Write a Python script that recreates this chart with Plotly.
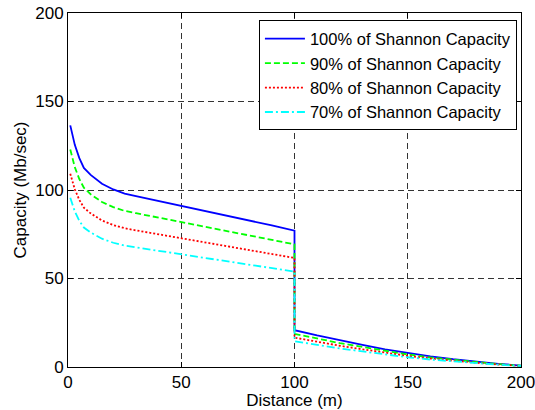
import plotly.graph_objects as go

distance = [1, 2, 3, 5, 7, 10, 15, 20, 25, 30, 40, 50, 60, 70, 80, 90, 100,
            100, 110, 120, 130, 140, 150, 160, 170, 180, 190, 200]

cap100 = [136.5, 130, 125.5, 118, 112.5, 108.5, 103.5, 100.3, 98, 96.5, 93.8, 91, 88.3, 85.5, 82.8, 80, 77,
          20.8, 17.8, 15, 12.5, 10, 7.9, 6, 4.4, 3, 1.8, 0.8]
cap90 = [122.9, 117, 112.9, 106.2, 101.3, 97.6, 93.2, 90.3, 88.2, 86.9, 84.4, 81.9, 79.5, 77, 74.5, 72, 69.3,
         18.7, 16, 13.5, 11.3, 9, 7.1, 5.4, 4, 2.7, 1.6, 0.7]
cap80 = [109.2, 104, 100.4, 94.4, 90, 86.8, 82.8, 80.2, 78.4, 77.2, 75, 72.8, 70.6, 68.4, 66.2, 64, 61.6,
         16.6, 14.2, 12, 10, 8, 6.3, 4.8, 3.5, 2.4, 1.4, 0.6]
cap70 = [95.6, 91, 87.9, 82.6, 78.8, 76, 72.5, 70.2, 68.6, 67.6, 65.7, 63.7, 61.8, 59.9, 58, 56, 53.9,
         14.6, 12.5, 10.5, 8.8, 7, 5.5, 4.2, 3.1, 2.1, 1.3, 0.6]

names = ["100% of Shannon Capacity", "90% of Shannon Capacity",
         "80% of Shannon Capacity", "70% of Shannon Capacity"]
colors = ["#0000FF", "#00FF00", "#FF0000", "#00FFFF"]
dashes = ["solid", "6px,3px", "2px,2px", "8px,3px,2px,3px"]

fig = go.Figure()
for ys, nm, c, d in zip([cap100, cap90, cap80, cap70], names, colors, dashes):
    fig.add_trace(go.Scatter(x=distance, y=ys, mode="lines", name=nm,
                             line=dict(color=c, width=1.8, dash=d)))

font = dict(family="Liberation Sans, Arial, sans-serif", size=17, color="black")
legend_font = dict(family="Liberation Sans, Arial, sans-serif", size=16.5, color="black")

fig.update_layout(
    width=535, height=410,
    margin=dict(l=68, r=14, t=13, b=43),
    paper_bgcolor="white", plot_bgcolor="white",
    font=font,
    showlegend=True,
    legend=dict(x=0.991, y=0.979, xanchor="right", yanchor="top",
                bgcolor="white", bordercolor="black", borderwidth=1,
                font=legend_font, tracegroupgap=0, itemwidth=40),
    xaxis=dict(range=[0, 200], tickvals=[0, 50, 100, 150, 200],
               showline=True, linecolor="black", linewidth=1, mirror="ticks",
               ticks="inside", ticklen=5, tickcolor="black",
               showgrid=True, gridcolor="#333333", gridwidth=1, griddash="6px,4px",
               zeroline=False, automargin=False, ticklabeloverflow="allow",
               title=dict(text="Distance (m)", font=font, standoff=0)),
    yaxis=dict(range=[0, 200], tickvals=[0, 50, 100, 150, 200],
               showline=True, linecolor="black", linewidth=1, mirror="ticks",
               ticks="inside", ticklen=5, tickcolor="black",
               showgrid=True, gridcolor="#333333", gridwidth=1, griddash="6px,4px",
               zeroline=False, automargin=False, ticklabeloverflow="allow",
               title=dict(text="Capacity (Mb/sec)", font=font, standoff=4)),
)

fig.write_html("out.html", config={"displayModeBar": False},
               post_script="document.body.style.margin='0px';document.body.style.overflow='hidden';")
